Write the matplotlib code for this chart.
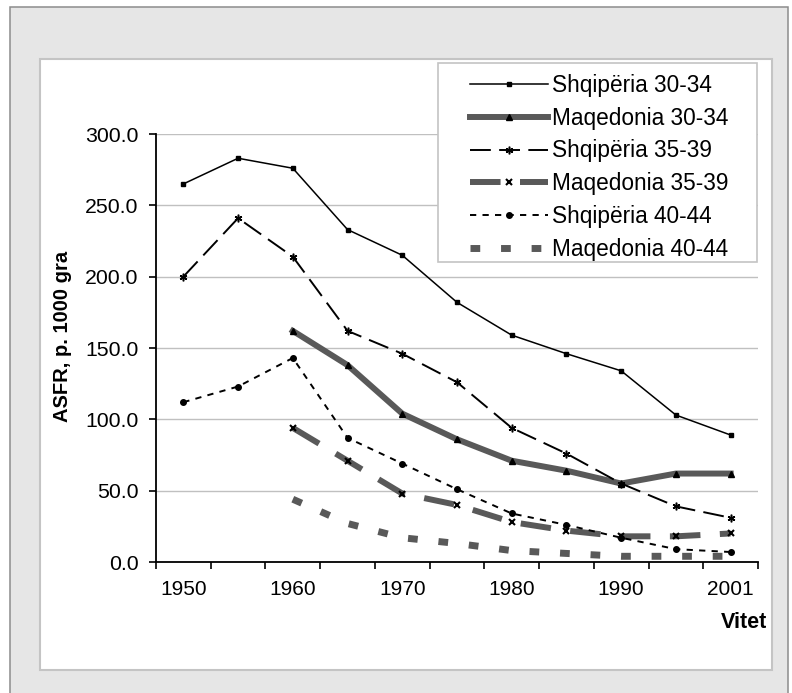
import numpy as np
import matplotlib

matplotlib.use("Agg")
import matplotlib.pyplot as plt
from matplotlib.patches import Rectangle

plt.rcParams["font.family"] = ["Liberation Sans", "DejaVu Sans"]
plt.rcParams["lines.scale_dashes"] = False

nan = np.nan
years = ["1950", "1955", "1960", "1965", "1970", "1975", "1980", "1985", "1990", "1995", "2001"]
year_labels = ["1950", "1960", "1970", "1980", "1990", "2001"]

shq_30_34 = [265, 283, 276, 233, 215, 182, 159, 146, 134, 103, 89]
maq_30_34 = [nan, nan, 162, 138, 104, 86, 71, 64, 55, 62, 62]
shq_35_39 = [200, 241, 214, 162, 146, 126, 94, 76, 55, 39, 31]
maq_35_39 = [nan, nan, 94, 71, 48, 40, 28, 22, 18, 18, 20]
shq_40_44 = [112, 123, 143, 87, 69, 51, 34, 26, 17, 9, 7]
maq_40_44 = [nan, nan, 44, 27, 17, 13, 8, 6, 4, 4, 4]

GRAY = "#595959"
W, H = 792, 693


def px_box(x0, y0, x1, y1):
    # pixel box (top-left origin) -> figure fraction rect
    return (x0 / W, 1 - y1 / H), (x1 - x0) / W, (y1 - y0) / H


def main():
    fig = plt.figure(figsize=(W / 100, H / 100), dpi=100, facecolor="white")

    # outer gray frame and inner white panel
    xy, w, h = px_box(9.5, 6.5, 788, 700)
    fig.add_artist(Rectangle(xy, w, h, transform=fig.transFigure, facecolor="#e6e6e6",
                             edgecolor="#8c8c8c", linewidth=1.1, zorder=-10))
    xy, w, h = px_box(40, 59, 772, 670)
    fig.add_artist(Rectangle(xy, w, h, transform=fig.transFigure, facecolor="white",
                             edgecolor="#c4c4c4", linewidth=1.5, zorder=-9))

    ax = fig.add_axes([156 / W, 1 - 562 / H, (758 - 156) / W, (562 - 134) / H])
    ax.set_facecolor("none")

    x = np.arange(len(years))
    series = [
        (shq_30_34, "Shqipëria 30-34",
         dict(color="black", lw=1.1, ls="-", marker="s", ms=3.5, mfc="black", mec="black")),
        (maq_30_34, "Maqedonia 30-34",
         dict(color=GRAY, lw=4.3, ls="-", marker="^", ms=5, mfc="black", mec="black")),
        (shq_35_39, "Shqipëria 35-39",
         dict(color="black", lw=1.4, ls=(0, (15, 6)), marker=(6, 2, 0), ms=5.5, mew=1.1,
              mfc="black", mec="black")),
        (maq_35_39, "Maqedonia 35-39",
         dict(color=GRAY, lw=4.3, ls=(0, (22, 14)), marker="x", ms=5, mew=1.5,
              mfc="black", mec="black")),
        (shq_40_44, "Shqipëria 40-44",
         dict(color="black", lw=1.4, ls=(0, (4.5, 4.5)), marker="o", ms=4, mfc="black", mec="black")),
        (maq_40_44, "Maqedonia 40-44",
         dict(color=GRAY, lw=5, ls=(0, (7, 15)))),
    ]
    handles = []
    for values, label, style in series:
        line, = ax.plot(x, values, label=label, dash_capstyle="butt", **style)
        handles.append(line)

    ax.set_xlim(-0.5, len(years) - 0.5)
    ax.set_ylim(0, 300)
    ax.set_yticks(np.arange(0, 301, 50))
    ax.set_yticklabels([f"{v:.1f}" for v in np.arange(0, 301, 50)])
    ax.set_xticks(x[::2])
    ax.set_xticklabels(year_labels)
    ax.set_xticks(np.arange(-0.5, len(years), 1), minor=True)
    ax.tick_params(axis="x", which="major", length=0, pad=13, labelsize=15)
    ax.tick_params(axis="x", which="minor", length=5, width=1.2, direction="out")
    ax.tick_params(axis="y", length=5, width=1.2, pad=7.5, labelsize=15.3)

    ax.yaxis.grid(True, color="#c0c0c0", linewidth=1.0)
    ax.set_axisbelow(True)
    for side in ("top", "right"):
        ax.spines[side].set_visible(False)
    for side in ("left", "bottom"):
        ax.spines[side].set_linewidth(1.3)

    fig.text(62 / W, 1 - 336 / H, "ASFR, p. 1000 gra", rotation=90, ha="center", va="center",
             fontsize=14.5, fontweight="bold")
    fig.text(767 / W, 1 - 623 / H, "Vitet", ha="right", va="center",
             fontsize=15.5, fontweight="bold")

    # legend frame drawn separately so the padding can differ per side
    xy, w, h = px_box(438, 63, 757, 262)
    fig.add_artist(Rectangle(xy, w, h, transform=fig.transFigure, facecolor="white",
                             edgecolor="#c4c4c4", linewidth=1.2, zorder=5))
    leg = fig.legend(handles=handles, loc="upper left", bbox_to_anchor=(470 / W, 1 - 74 / H),
                     frameon=False, borderpad=0, borderaxespad=0, numpoints=1,
                     handlelength=3.45, handletextpad=0.18, labelspacing=0.43, fontsize=16.3)
    leg.set_zorder(6)

    fig.savefig("out.png", dpi=100)
    plt.close(fig)


if __name__ == "__main__":
    main()
